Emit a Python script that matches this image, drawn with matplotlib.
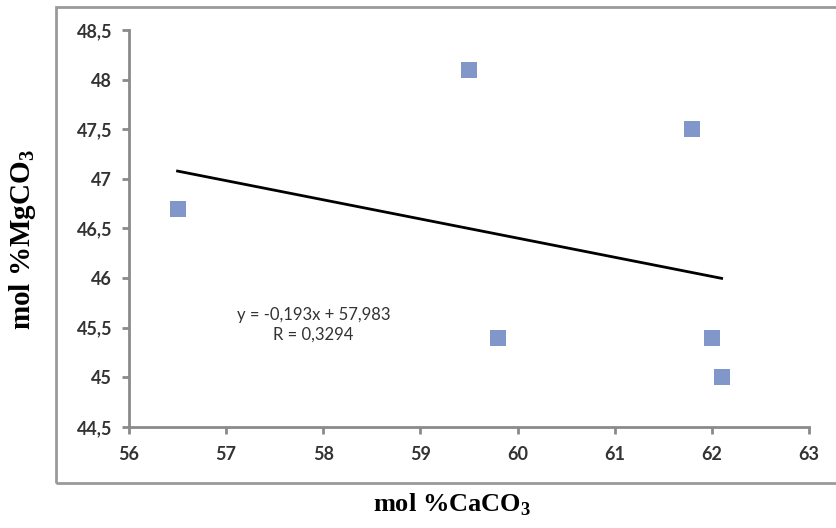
import matplotlib.pyplot as plt
import matplotlib.patches as patches
from matplotlib.ticker import FuncFormatter, MultipleLocator

# data
caco3 = [56.5, 59.5, 61.8, 59.8, 62.0, 62.1]
mgco3 = [46.7, 48.1, 47.5, 45.4, 45.4, 45.0]
slope = -0.193
intercept = 57.983
r_value = "0,3294"
trend_x = [56.5, 62.1]

plt.rcParams["mathtext.fontset"] = "custom"
plt.rcParams["mathtext.bf"] = "Liberation Serif:bold"
plt.rcParams["mathtext.rm"] = "Liberation Serif:bold"

fig = plt.figure(figsize=(8.37, 5.28), dpi=100)
ax = fig.add_axes([0.1541, 0.1913, 0.8125, 0.7519])

# outer gray frame (right side runs off the picture)
frame = patches.Rectangle((56 / 837, 1 - 483 / 528), 1.2, (483 - 7) / 528,
                          transform=fig.transFigure, fill=False,
                          edgecolor="#9a9a9a", linewidth=2, clip_on=False)
fig.patches.append(frame)

ax.plot(caco3, mgco3, "s", color="#8196c9", markersize=11.5, markeredgewidth=0)
trend_y = [slope * x + intercept for x in trend_x]
ax.plot(trend_x, trend_y, color="black", linewidth=2)

ax.set_xlim(56, 63)
ax.set_ylim(44.5, 48.5)
ax.xaxis.set_major_locator(MultipleLocator(1))
ax.yaxis.set_major_locator(MultipleLocator(0.5))
comma = FuncFormatter(lambda v, p: ("%g" % v).replace(".", ","))
ax.xaxis.set_major_formatter(comma)
ax.yaxis.set_major_formatter(comma)

for s in ["top", "right"]:
    ax.spines[s].set_visible(False)
for s in ["left", "bottom"]:
    ax.spines[s].set_color("#8a8a8a")
    ax.spines[s].set_linewidth(2)
ax.tick_params(axis="both", color="#8a8a8a", width=2, length=5,
               labelsize=13, labelcolor="#333333")
ax.tick_params(axis="x", pad=9)
ax.tick_params(axis="y", pad=7)
for lab in ax.get_xticklabels() + ax.get_yticklabels():
    lab.set_family("Lato")
    lab.set_weight("bold")

ax.text(57.9, 45.53, "y = -0,193x + 57,983\nR = " + r_value,
        ha="center", va="center", multialignment="center", fontsize=12,
        family="Lato", color="#333333", linespacing=1.25)

fig.text(452 / 837, 1 - 505 / 528, r"mol %CaCO$_\mathbf{3}$", ha="center", va="center",
         family="Liberation Serif", weight="bold", fontsize=19)
fig.text(23 / 837, 1 - 240 / 528, r"mol %MgCO$_\mathbf{3}$", ha="center", va="center",
         rotation=90, family="Liberation Serif", weight="bold", fontsize=21)

fig.savefig("out.png", dpi=100)
